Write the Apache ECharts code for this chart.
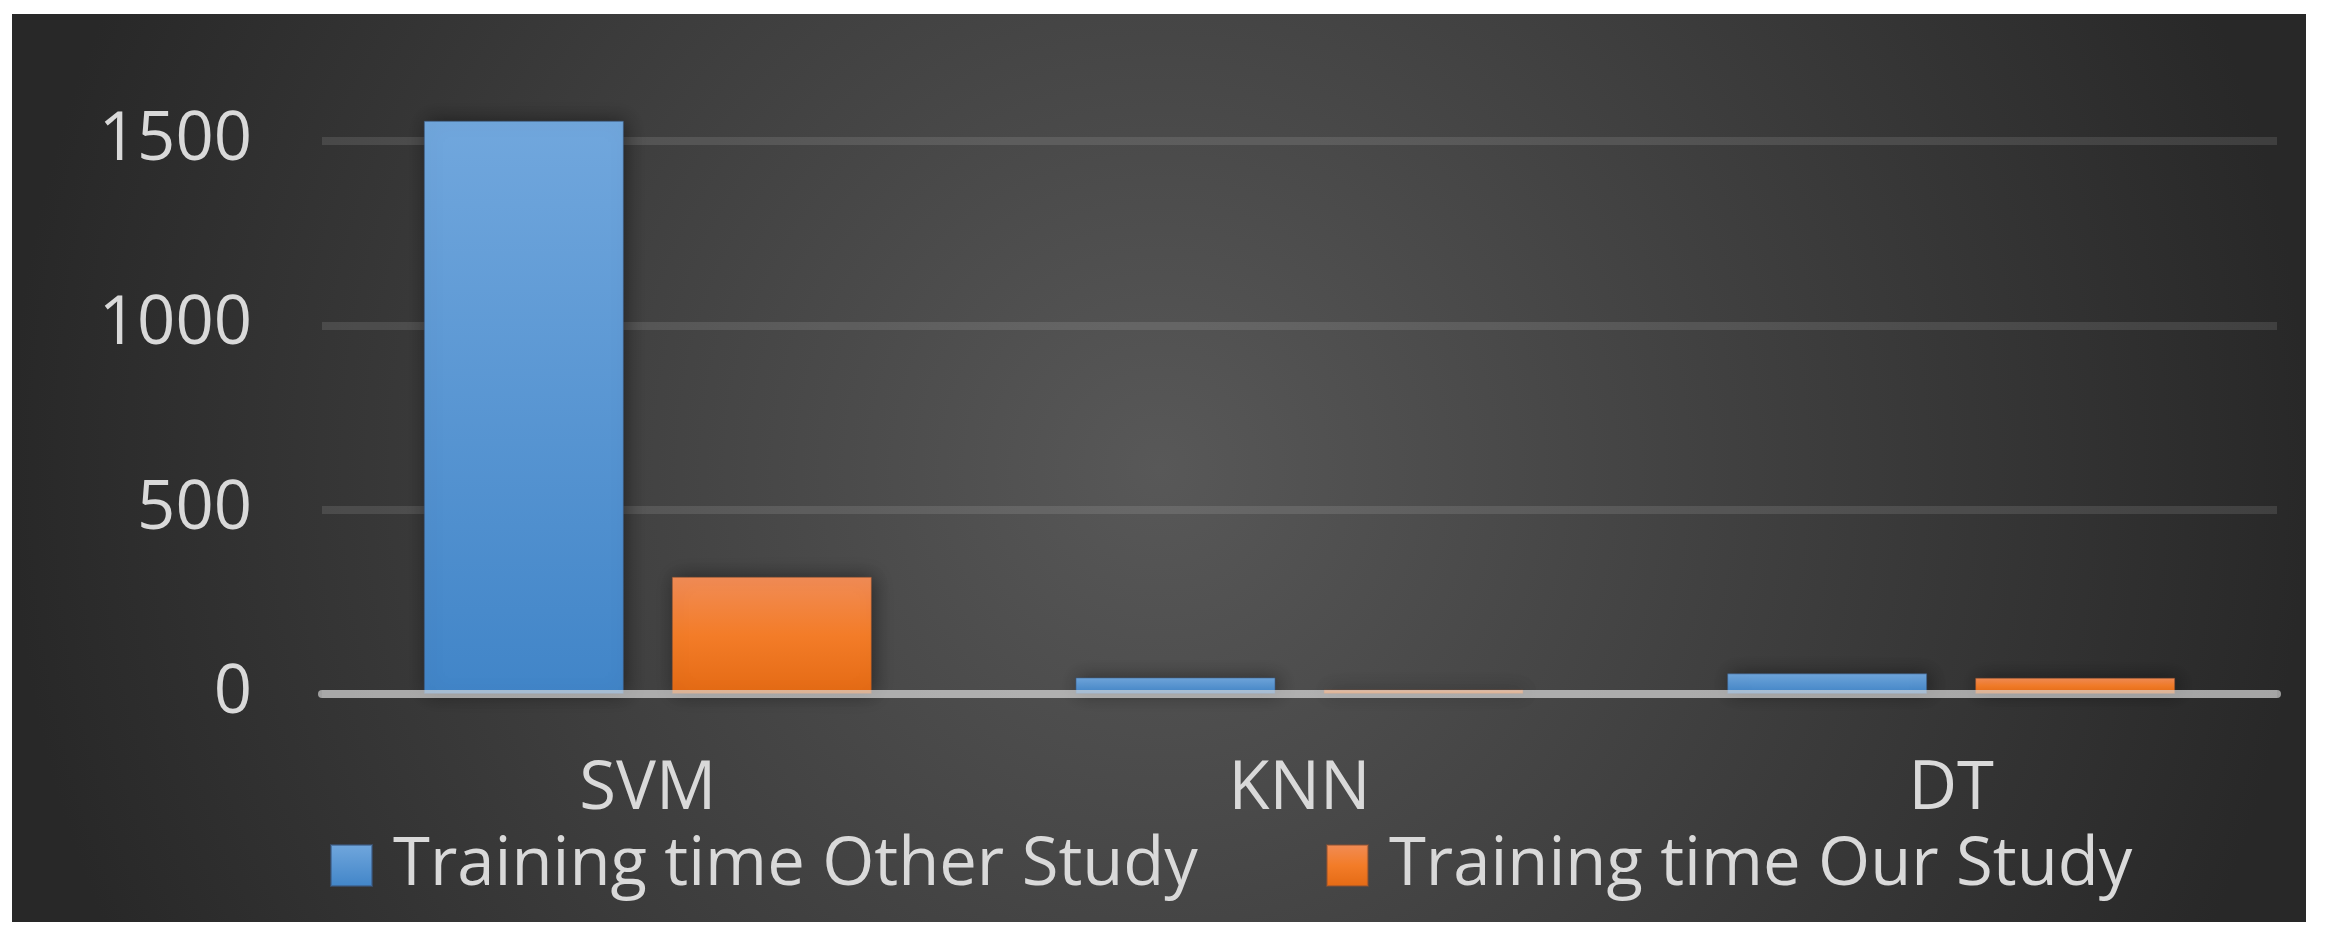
<!DOCTYPE html>
<html>
<head>
<meta charset="utf-8">
<script src="https://cdn.jsdelivr.net/npm/echarts@6/dist/echarts.min.js"></script>
<style>
  html, body { margin: 0; padding: 0; background: #ffffff; }
  #chart { width: 2327px; height: 947px; }
</style>
</head>
<body>
<div id="chart"></div>
<script>
// Data
const categories = ['SVM', 'KNN', 'DT'];
const seriesNames = ['Training time Other Study', 'Training time Our Study'];
const otherStudy = [1555, 45, 56];
const ourStudy = [318, 12, 44];
const yTicks = [0, 500, 1000, 1500];

const chart = echarts.init(document.getElementById('chart'), null, { renderer: 'canvas' });

const FONT = '"Open Sans", "Liberation Sans", sans-serif';
const TEXT = '#d9d9d9';

const blueFill = new echarts.graphic.LinearGradient(0, 0, 0, 1, [
  { offset: 0, color: '#71a7dd' },
  { offset: 1, color: '#4185c8' }
]);
const orangeFill = new echarts.graphic.LinearGradient(0, 0, 0, 1, [
  { offset: 0, color: '#f18c56' },
  { offset: 0.5, color: '#f37c28' },
  { offset: 1, color: '#e46a14' }
]);

const option = {
  backgroundColor: '#ffffff',
  animation: false,
  graphic: [{
    type: 'rect',
    z: -100,
    silent: true,
    shape: { x: 12, y: 14, width: 2294, height: 908 },
    style: {
      fill: new echarts.graphic.RadialGradient(1159, 468, 1150, [
        { offset: 0, color: '#585858' },
        { offset: 1, color: '#282828' }
      ], true)
    }
  }],
  grid: { left: 322, right: 50, top: 141, bottom: 253, containLabel: false },
  legend: {
    data: seriesNames,
    left: 330,
    top: 832,
    padding: 0,
    itemWidth: 41,
    itemHeight: 41,
    itemGap: 128,
    icon: 'rect',
    textStyle: { color: TEXT, fontSize: 67, fontFamily: FONT, padding: [0, 0, 0, 16] }
  },
  xAxis: {
    type: 'category',
    data: categories,
    z: 5,
    axisLine: { show: true, lineStyle: { color: 'rgba(217,217,217,0.66)', width: 8 } },
    axisTick: { show: false },
    axisLabel: { color: TEXT, fontSize: 67, fontFamily: FONT, margin: 62 }
  },
  yAxis: {
    type: 'value',
    min: yTicks[0],
    max: yTicks[yTicks.length - 1],
    interval: 500,
    axisLine: { show: false },
    axisTick: { show: false },
    axisLabel: {
      color: TEXT, fontSize: 67, fontFamily: FONT, margin: 70,
      formatter: function (v) { return String(v); }
    },
    splitLine: { show: true, lineStyle: { color: 'rgba(255,255,255,0.11)', width: 8 } }
  },
  series: [
    {
      name: seriesNames[0],
      type: 'bar',
      data: otherStudy,
      barWidth: 200,
      barGap: '24%',
      clip: false,
      itemStyle: {
        color: blueFill,
        borderColor: 'rgba(60,90,130,0.6)',
        borderWidth: 1,
        shadowBlur: 18,
        shadowColor: 'rgba(0,0,0,0.45)',
        shadowOffsetX: 3
      }
    },
    {
      name: seriesNames[1],
      type: 'bar',
      data: ourStudy,
      barWidth: 200,
      barGap: '24%',
      clip: false,
      itemStyle: {
        color: orangeFill,
        borderColor: 'rgba(140,80,50,0.5)',
        borderWidth: 1,
        shadowBlur: 18,
        shadowColor: 'rgba(0,0,0,0.45)',
        shadowOffsetX: 3
      }
    }
  ]
};

chart.setOption(option);
</script>
</body>
</html>
